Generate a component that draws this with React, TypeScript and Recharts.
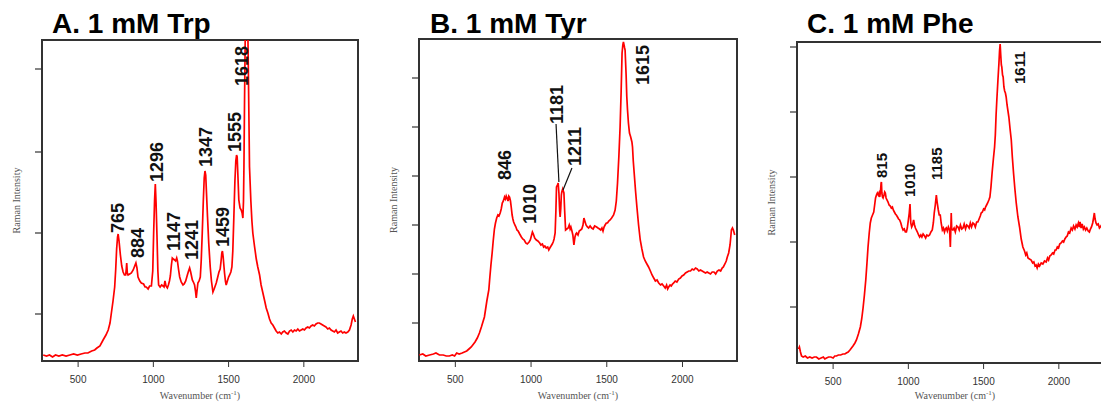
import React from "react"
import { ComposedChart, Line, Scatter, XAxis, YAxis, ReferenceArea, ReferenceLine } from "recharts"

// Raman spectra: [wavenumber (cm-1), intensity (a.u.)]
const trpSpectrum: [number, number][] = [
  [268, 6], [290, 5], [310, 6], [330, 4], [350, 6], [372, 5], [395, 6], [420, 5], [445, 6], [470, 7],
  [495, 6], [520, 7], [545, 8], [565, 8], [590, 10], [610, 11], [625, 13], [645, 15], [666, 21], [685, 26],
  [700, 31], [712, 38], [721, 48], [732, 60], [743, 74], [750, 92], [756, 112], [762, 124], [766, 127], [772, 120],
  [781, 106], [790, 95], [799, 89], [808, 86], [816, 86], [820, 92], [823, 98], [827, 88], [832, 86], [843, 87],
  [854, 88], [866, 91], [876, 95], [884, 98], [891, 93], [898, 84], [910, 80], [920, 78], [935, 77], [945, 74],
  [953, 74], [965, 72], [975, 75], [987, 75], [996, 90], [1002, 128], [1008, 160], [1013, 177], [1018, 158], [1024, 126],
  [1030, 90], [1035, 76], [1045, 74], [1055, 76], [1064, 75], [1071, 74], [1077, 80], [1084, 75], [1093, 73], [1100, 76],
  [1107, 80], [1113, 85], [1120, 96], [1126, 103], [1133, 102], [1141, 101], [1148, 100], [1155, 103], [1160, 100], [1167, 92],
  [1175, 84], [1185, 79], [1197, 76], [1205, 77], [1215, 80], [1226, 86], [1234, 90], [1241, 93], [1248, 89], [1259, 81],
  [1266, 79], [1274, 76], [1280, 70], [1285, 63], [1290, 70], [1296, 78], [1304, 80], [1312, 84], [1318, 100], [1325, 128],
  [1332, 160], [1338, 183], [1343, 190], [1348, 186], [1354, 165], [1360, 144], [1368, 118], [1378, 94], [1386, 80], [1396, 69],
  [1404, 72], [1418, 78], [1428, 84], [1436, 89], [1444, 92], [1450, 100], [1455, 108], [1459, 110], [1464, 104], [1469, 95],
  [1473, 88], [1479, 80], [1484, 76], [1492, 80], [1500, 84], [1507, 86], [1515, 89], [1522, 94], [1528, 110], [1535, 144],
  [1542, 180], [1548, 200], [1553, 206], [1557, 204], [1562, 185], [1568, 161], [1576, 153], [1584, 151], [1590, 148], [1595, 143],
  [1599, 160], [1602, 194], [1606, 260], [1611, 330], [1628, 330], [1633, 270], [1639, 194], [1648, 160], [1655, 140], [1661, 128],
  [1672, 115], [1684, 102], [1694, 94], [1706, 86], [1716, 76], [1728, 68], [1740, 60], [1750, 53], [1761, 48], [1772, 42],
  [1783, 38], [1794, 36], [1805, 33], [1816, 30], [1827, 28], [1838, 29], [1850, 27], [1860, 29], [1871, 30], [1883, 28],
  [1894, 27], [1905, 30], [1916, 31], [1927, 29], [1938, 31], [1949, 30], [1960, 32], [1971, 30], [1982, 31], [1993, 32],
  [2004, 31], [2015, 33], [2026, 34], [2037, 33], [2048, 35], [2059, 36], [2070, 35], [2081, 37], [2092, 38], [2103, 38],
  [2114, 37], [2125, 36], [2136, 35], [2147, 34], [2159, 32], [2170, 33], [2181, 31], [2192, 30], [2203, 29], [2214, 31],
  [2225, 28], [2236, 29], [2247, 30], [2258, 28], [2269, 29], [2280, 28], [2292, 29], [2303, 31], [2314, 36], [2322, 42],
  [2329, 45], [2336, 42], [2343, 39],
]

const tyrSpectrum: [number, number][] = [
  [262, 6], [285, 7], [305, 5], [330, 6], [355, 7], [372, 8], [395, 6], [420, 6], [440, 5], [460, 5],
  [480, 6], [495, 5], [509, 8], [525, 7], [545, 8], [560, 9], [575, 10], [590, 12], [605, 14], [615, 16],
  [630, 19], [645, 23], [659, 28], [672, 34], [682, 39], [692, 44], [700, 52], [708, 60], [715, 66], [721, 71],
  [728, 84], [735, 96], [743, 108], [750, 120], [758, 132], [765, 138], [773, 143], [781, 146], [788, 145], [796, 148],
  [803, 152], [810, 158], [817, 160], [825, 164], [831, 162], [836, 165], [841, 163], [848, 160], [853, 165], [858, 164],
  [864, 160], [869, 154], [875, 146], [880, 142], [885, 139], [893, 136], [900, 134], [907, 131], [915, 130], [925, 127],
  [936, 124], [945, 122], [955, 121], [965, 118], [975, 117], [987, 119], [995, 121], [1002, 125], [1009, 129], [1015, 127],
  [1024, 123], [1035, 121], [1045, 120], [1057, 118], [1065, 116], [1075, 117], [1083, 114], [1091, 115], [1100, 113], [1110, 114],
  [1117, 111], [1124, 113], [1132, 115], [1140, 117], [1146, 119], [1152, 122], [1159, 128], [1164, 150], [1168, 174], [1174, 176],
  [1179, 178], [1184, 168], [1189, 150], [1192, 144], [1196, 152], [1200, 166], [1203, 169], [1209, 172], [1213, 170], [1217, 168],
  [1222, 150], [1228, 131], [1236, 132], [1245, 133], [1252, 136], [1258, 132], [1263, 134], [1270, 130], [1276, 126], [1283, 116],
  [1290, 124], [1296, 127], [1301, 128], [1310, 126], [1318, 130], [1327, 131], [1335, 132], [1343, 136], [1349, 143], [1355, 140],
  [1363, 136], [1372, 134], [1380, 133], [1390, 135], [1400, 133], [1410, 132], [1420, 135], [1433, 134], [1442, 133], [1452, 132],
  [1460, 131], [1468, 133], [1475, 130], [1482, 134], [1489, 136], [1497, 138], [1505, 138], [1513, 140], [1522, 141], [1532, 143],
  [1545, 146], [1555, 151], [1563, 160], [1571, 178], [1580, 205], [1588, 234], [1595, 270], [1601, 308], [1606, 316], [1610, 319],
  [1614, 316], [1618, 313], [1621, 311], [1628, 285], [1632, 265], [1637, 251], [1643, 238], [1650, 228], [1658, 224], [1666, 219],
  [1670, 214], [1675, 200], [1681, 188], [1690, 170], [1699, 154], [1710, 136], [1721, 121], [1732, 112], [1743, 104], [1754, 100],
  [1765, 97], [1776, 94], [1788, 90], [1799, 86], [1810, 83], [1821, 80], [1832, 81], [1843, 78], [1855, 76], [1865, 77],
  [1876, 75], [1886, 73], [1895, 76], [1902, 72], [1909, 74], [1918, 76], [1926, 75], [1934, 77], [1942, 78], [1952, 80],
  [1963, 79], [1975, 82], [1986, 83], [1997, 85], [2008, 86], [2020, 88], [2031, 89], [2042, 90], [2053, 90], [2064, 92],
  [2075, 91], [2086, 93], [2097, 92], [2108, 90], [2119, 91], [2130, 90], [2141, 89], [2152, 88], [2163, 89], [2174, 88],
  [2185, 87], [2196, 89], [2208, 89], [2219, 87], [2230, 90], [2241, 91], [2252, 90], [2262, 93], [2270, 94], [2280, 97],
  [2289, 100], [2296, 104], [2305, 108], [2314, 116], [2319, 124], [2323, 131], [2330, 133], [2336, 131], [2345, 126],
]

const pheSpectrum: [number, number][] = [
  [270, 14], [276, 16], [283, 11], [290, 7], [301, 6], [315, 7], [330, 5], [345, 6], [360, 5], [375, 6],
  [389, 6], [405, 4], [420, 5], [435, 6], [445, 4], [456, 5], [470, 6], [485, 6], [500, 5], [511, 7],
  [522, 7], [535, 8], [550, 8], [565, 9], [578, 9], [588, 10], [600, 11], [612, 13], [622, 15], [632, 17],
  [645, 20], [655, 23], [668, 29], [681, 36], [690, 44], [699, 55], [708, 68], [717, 83], [725, 100], [732, 116],
  [740, 130], [747, 140], [754, 145], [762, 148], [770, 151], [776, 158], [782, 165], [788, 168], [794, 170], [800, 168],
  [805, 170], [810, 166], [815, 172], [819, 180], [821, 181], [824, 170], [828, 166], [832, 165], [838, 168], [843, 171],
  [847, 170], [852, 165], [858, 163], [865, 161], [872, 158], [880, 157], [887, 155], [894, 156], [900, 153], [907, 151],
  [914, 149], [920, 148], [928, 146], [935, 144], [942, 143], [950, 140], [957, 136], [965, 133], [973, 134], [980, 131],
  [987, 131], [993, 135], [1000, 143], [1006, 150], [1011, 159], [1016, 140], [1022, 136], [1028, 138], [1035, 143], [1041, 138],
  [1047, 135], [1053, 133], [1060, 131], [1068, 128], [1075, 126], [1083, 128], [1090, 126], [1098, 129], [1108, 127], [1115, 125],
  [1123, 128], [1132, 127], [1141, 128], [1150, 131], [1159, 133], [1166, 140], [1172, 150], [1179, 158], [1186, 168], [1192, 160],
  [1199, 153], [1205, 148], [1212, 148], [1218, 140], [1226, 133], [1233, 135], [1240, 131], [1246, 134], [1252, 135], [1259, 132],
  [1266, 136], [1274, 133], [1279, 116], [1282, 132], [1285, 150], [1288, 134], [1296, 133], [1304, 135], [1312, 131], [1321, 137],
  [1330, 136], [1338, 133], [1346, 138], [1355, 134], [1363, 135], [1371, 139], [1380, 134], [1388, 138], [1396, 137], [1404, 135],
  [1412, 140], [1420, 136], [1429, 140], [1437, 139], [1445, 136], [1454, 141], [1462, 141], [1470, 144], [1478, 147], [1484, 150],
  [1492, 151], [1500, 154], [1507, 153], [1513, 156], [1520, 158], [1527, 160], [1535, 163], [1542, 166], [1549, 176], [1557, 191],
  [1565, 204], [1573, 216], [1578, 228], [1583, 248], [1588, 263], [1595, 282], [1602, 300], [1606, 312], [1610, 319], [1614, 308],
  [1618, 298], [1621, 296], [1626, 288], [1630, 286], [1635, 276], [1640, 272], [1645, 270], [1650, 266], [1656, 258], [1662, 252],
  [1668, 246], [1676, 234], [1684, 223], [1691, 206], [1699, 190], [1708, 174], [1717, 160], [1728, 146], [1739, 136], [1750, 124],
  [1761, 116], [1772, 112], [1780, 108], [1787, 110], [1795, 105], [1805, 104], [1816, 103], [1826, 100], [1834, 101], [1842, 97],
  [1849, 98], [1856, 95], [1864, 99], [1872, 97], [1883, 100], [1894, 99], [1905, 102], [1916, 101], [1925, 105], [1932, 103],
  [1940, 107], [1949, 108], [1958, 110], [1966, 109], [1975, 113], [1982, 113], [1990, 116], [1998, 115], [2006, 119], [2015, 120],
  [2024, 122], [2032, 121], [2040, 124], [2048, 126], [2056, 127], [2064, 131], [2072, 130], [2082, 135], [2090, 133], [2098, 137],
  [2107, 134], [2115, 138], [2122, 136], [2130, 140], [2136, 136], [2141, 141], [2148, 135], [2155, 139], [2163, 134], [2170, 136],
  [2178, 133], [2186, 135], [2195, 132], [2203, 131], [2210, 134], [2217, 136], [2225, 140], [2232, 146], [2236, 150], [2241, 144],
  [2247, 140], [2254, 138], [2262, 139], [2270, 135], [2276, 136], [2284, 138], [2292, 137], [2300, 140], [2310, 139], [2320, 141],
  [2330, 142],
]

// peak labels: position of the bottom end of each rotated label
const trpPeaks = [
  { x: 759, y: 128, text: "765" },
  { x: 892, y: 103, text: "884" },
  { x: 1024, y: 179, text: "1296" },
  { x: 1137, y: 110, text: "1147" },
  { x: 1257, y: 101, text: "1241" },
  { x: 1350, y: 194, text: "1347" },
  { x: 1462, y: 114, text: "1459" },
  { x: 1542, y: 209, text: "1555" },
  { x: 1588, y: 275, text: "1618" },
]

const tyrPeaks = [
  { x: 828, y: 181, text: "846" },
  { x: 993, y: 137, text: "1010" },
  { x: 1171, y: 237, text: "1181" },
  { x: 1290, y: 195, text: "1211" },
  { x: 1739, y: 276, text: "1615" },
]

const phePeaks = [
  { x: 825, y: 185, text: "815" },
  { x: 1011, y: 166, text: "1010" },
  { x: 1190, y: 183, text: "1185" },
  { x: 1741, y: 279, text: "1611" },
]

const tyrLeaders = [
  [{ x: 1165, y: 237 }, { x: 1184, y: 179 }],
  [{ x: 1270, y: 193 }, { x: 1211, y: 171 }],
]

const xDomain = [260, 2360]
const xTicks = [500, 1000, 1500, 2000]
const trpYTicks = [47, 128, 209, 292]
const tyrYTicks = [38, 87, 136, 185, 234, 283]
const pheYTicks = [56, 121, 186, 251, 316]

const titles = [
  { text: "A. 1 mM Trp", x: 52, y: 33 },
  { text: "B. 1 mM Tyr", x: 430, y: 33 },
  { text: "C. 1 mM Phe", x: 807, y: 32.5 },
]

const sans = "'Liberation Sans', Arial, sans-serif"
const serif = "'Liberation Serif', 'Times New Roman', serif"

const toPoints = (s: [number, number][]) => s.map(([x, y]) => ({ x, y }))

const XTitle = (props: any) => {
  const vb = props.viewBox
  return (
    <text x={vb.x + vb.width / 2} y={vb.y + vb.height - 5} textAnchor="middle" fontFamily={serif} fontSize={10} fill="#555">
      Wavenumber (cm<tspan dy={-4} fontSize={7}>-1</tspan><tspan dy={4}>)</tspan>
    </text>
  )
}

const YTitle = (props: any) => {
  const vb = props.viewBox
  const cx = vb.x + vb.width - 26
  const cy = vb.y + vb.height / 2
  return (
    <text x={cx} y={cy} transform={`rotate(-90 ${cx} ${cy})`} textAnchor="middle" dominantBaseline="central"
      fontFamily={serif} fontSize={10} fill="#555">
      Raman Intensity
    </text>
  )
}

function Panel(props: any) {
  const { left, width, top, axisH, yWidth, right, yMax, yTicks, spectrum, peaks, leaders, labelSize } = props
  const PeakLabel = (p: any) => (
    <text x={p.cx} y={p.cy} dy="0.36em" transform={`rotate(-90 ${p.cx} ${p.cy})`} textAnchor="start"
      fontFamily={sans} fontWeight="bold" fontSize={labelSize} fill="#111">
      {p.payload.text}
    </text>
  )
  return (
    <div style={{ position: "absolute", left, top: 0 }}>
      <ComposedChart width={width} height={404} margin={{ top, right, bottom: 0, left: 0 }}>
        <XAxis type="number" dataKey="x" domain={xDomain} ticks={xTicks} allowDataOverflow height={axisH}
          axisLine={false} tickLine={{ stroke: "#333" }} tickSize={6} tickMargin={9}
          tick={{ fill: "#333", fontSize: 10, fontFamily: sans }} label={{ content: XTitle }} />
        <YAxis type="number" dataKey="y" domain={[0, yMax]} ticks={yTicks} allowDataOverflow width={yWidth}
          axisLine={false} tickLine={{ stroke: "#333", strokeWidth: 1.2 }} tickSize={7}
          tick={{ fill: "none", fontSize: 1 }} tickFormatter={() => ""} label={{ content: YTitle }} />
        <ReferenceArea x1={xDomain[0]} x2={xDomain[1]} y1={0} y2={yMax} ifOverflow="visible"
          fill="none" stroke="#333" strokeWidth={2} />
        <Line data={toPoints(spectrum)} dataKey="y" type="linear" stroke="#ff0000" strokeWidth={1.7}
          dot={false} isAnimationActive={false} />
        {(leaders || []).map((seg: any, i: number) => (
          <ReferenceLine key={i} segment={seg} stroke="#111" strokeWidth={1.2} ifOverflow="visible" />
        ))}
        <Scatter data={peaks} dataKey="y" shape={PeakLabel} isAnimationActive={false} />
      </ComposedChart>
    </div>
  )
}

export default function App() {
  return (
    <div style={{ position: "absolute", left: 0, top: 0, width: 1101, height: 404, overflow: "hidden", background: "#fff" }}>
      <Panel left={0} width={370} top={40} axisH={43} yWidth={42} right={12} yMax={321}
        yTicks={trpYTicks} spectrum={trpSpectrum} peaks={trpPeaks} labelSize={18} />
      <Panel left={370} width={380} top={39} axisH={43} yWidth={49} right={13} yMax={322}
        yTicks={tyrYTicks} spectrum={tyrSpectrum} peaks={tyrPeaks} leaders={tyrLeaders} labelSize={18} />
      <Panel left={740} width={378} top={42} axisH={41} yWidth={57} right={5} yMax={321}
        yTicks={pheYTicks} spectrum={pheSpectrum} peaks={phePeaks} labelSize={15} />
      <svg width={1101} height={404} style={{ position: "absolute", left: 0, top: 0, pointerEvents: "none" }}>
        {titles.map((t) => (
          <text key={t.text} x={t.x} y={t.y} fontFamily={sans} fontWeight="bold" fontSize={28} fill="#000">
            {t.text}
          </text>
        ))}
      </svg>
    </div>
  )
}
